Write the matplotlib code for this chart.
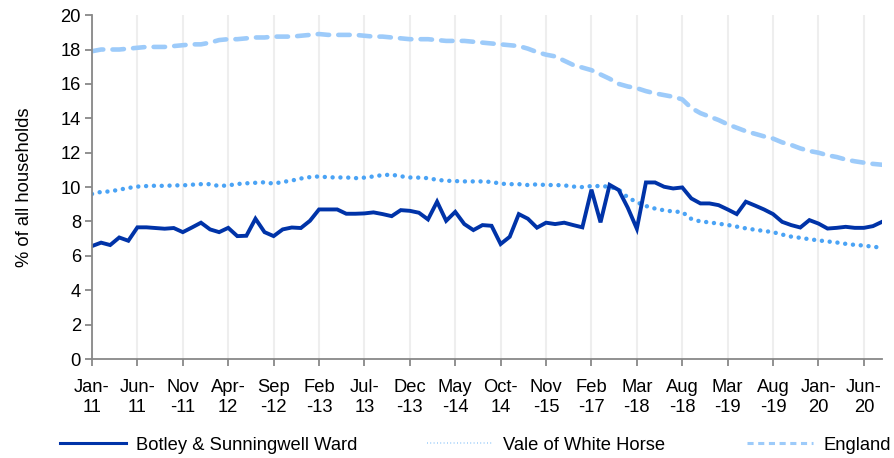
import numpy as np
import pandas as pd
from matplotlib import pyplot as plt
from matplotlib.lines import Line2D

plt.rcParams['font.family'] = ['Liberation Sans', 'DejaVu Sans']

# category labels (monthly to Oct-14, then quarterly, then monthly again)
months = (list(pd.date_range('2011-01-01', '2014-10-01', freq='MS').strftime('%b-%y'))
          + ['Nov-14', 'Feb-15', 'May-15', 'Aug-15', 'Nov-15',
             'Feb-16', 'May-16', 'Aug-16', 'Nov-16', 'Feb-17',
             'May-17', 'Aug-17', 'Nov-17', 'Feb-18', 'Mar-18',
             'Apr-18', 'May-18', 'Jun-18', 'Jul-18', 'Aug-18',
             'Sep-18', 'Nov-18', 'Dec-18', 'Jan-19']
          + list(pd.date_range('2019-03-01', '2020-08-01', freq='MS').strftime('%b-%y')))

botley = [6.57, 6.77, 6.63, 7.07, 6.88, 7.66, 7.66, 7.62, 7.58, 7.62,
          7.38, 7.65, 7.93, 7.54, 7.38, 7.63, 7.15, 7.17, 8.16, 7.38,
          7.15, 7.54, 7.65, 7.62, 8.04, 8.70, 8.70, 8.70, 8.45, 8.45,
          8.47, 8.53, 8.43, 8.31, 8.66, 8.62, 8.51, 8.12, 9.15, 8.04,
          8.56, 7.85, 7.50, 7.79, 7.75, 6.69, 7.11, 8.43, 8.16, 7.64,
          7.93, 7.85, 7.93, 7.79, 7.66, 9.85, 7.95, 10.13, 9.83, 8.80,
          7.58, 10.27, 10.27, 10.02, 9.92, 9.98, 9.34, 9.05, 9.05, 8.95,
          8.70, 8.43, 9.15, 8.93, 8.70, 8.43, 7.98, 7.79, 7.65, 8.08,
          7.88, 7.59, 7.63, 7.69, 7.63, 7.63, 7.73, 7.98]

vale = [9.60, 9.72, 9.75, 9.85, 9.95, 10.03, 10.06, 10.08, 10.07, 10.10,
        10.10, 10.14, 10.17, 10.17, 10.06, 10.10, 10.18, 10.22, 10.25, 10.28,
        10.20, 10.30, 10.38, 10.50, 10.58, 10.62, 10.57, 10.56, 10.56, 10.52,
        10.55, 10.62, 10.70, 10.72, 10.63, 10.56, 10.55, 10.52, 10.42, 10.37,
        10.35, 10.33, 10.33, 10.33, 10.30, 10.20, 10.17, 10.17, 10.12, 10.16,
        10.12, 10.12, 10.10, 10.03, 10.00, 10.06, 10.06, 10.02, 9.85, 9.40,
        9.12, 8.90, 8.75, 8.65, 8.58, 8.55, 8.15, 8.00, 7.95, 7.87,
        7.80, 7.70, 7.60, 7.52, 7.45, 7.38, 7.24, 7.12, 7.05, 6.97,
        6.90, 6.84, 6.78, 6.70, 6.64, 6.60, 6.53, 6.48]

england = [17.90, 18.00, 18.00, 18.00, 18.05, 18.10, 18.15, 18.15, 18.15, 18.20,
           18.25, 18.30, 18.30, 18.40, 18.55, 18.60, 18.60, 18.65, 18.70, 18.70,
           18.75, 18.75, 18.75, 18.80, 18.85, 18.90, 18.85, 18.85, 18.85, 18.85,
           18.80, 18.75, 18.75, 18.70, 18.65, 18.60, 18.60, 18.60, 18.55, 18.50,
           18.50, 18.50, 18.45, 18.40, 18.35, 18.30, 18.25, 18.20, 18.05, 17.85,
           17.70, 17.60, 17.35, 17.10, 16.95, 16.80, 16.55, 16.30, 16.00, 15.85,
           15.75, 15.58, 15.45, 15.35, 15.25, 15.10, 14.60, 14.30, 14.10, 13.90,
           13.65, 13.45, 13.25, 13.10, 12.95, 12.82, 12.60, 12.45, 12.25, 12.10,
           12.00, 11.85, 11.75, 11.60, 11.50, 11.42, 11.35, 11.30]

wide = ['Nov', 'Sep', 'Feb', 'Dec', 'May', 'Mar', 'Aug']


def wrap(lbl):
    m, y = lbl.split('-')
    if m in wide:
        return m + '\n-' + y
    return m + '-\n' + y


x = np.arange(len(months))
fs = 13.2

fig = plt.figure(figsize=(8.95, 4.58), dpi=100)
ax = fig.add_axes([0.1028, 0.216, 0.8827, 0.751])

c_bot = '#0033A8'
c_vale = '#4AA3F5'
c_eng = '#9DCBFA'

ax.plot(x, england, color=c_eng, lw=3.3, ls=(0, (2.5, 2.0)), dash_capstyle='round')
ax.plot(x, vale, color=c_vale, lw=3.2, ls=(0, (0.01, 1.75)), dash_capstyle='round')
ax.plot(x, botley, color=c_bot, lw=2.8, solid_joinstyle='miter')

ax.set_xlim(0, len(months) - 1)
ax.set_ylim(0, 20)
ax.set_yticks(np.arange(0, 21, 2))
ax.set_xticks(x[::5])
ax.set_xticklabels([wrap(months[i]) for i in x[::5]], linespacing=1.3)
ax.tick_params(axis='both', labelsize=fs, colors='#888888', labelcolor='black',
               length=5, width=1.3, direction='out')
ax.tick_params(axis='x', pad=9)
ax.tick_params(axis='y', pad=3)
ax.grid(axis='x', color='#EEEEEE', lw=1.5)
ax.set_axisbelow(True)
for s in ['top', 'right']:
    ax.spines[s].set_visible(False)
for s in ['left', 'bottom']:
    ax.spines[s].set_color('#888888')
    ax.spines[s].set_linewidth(1.3)
ax.set_ylabel('% of all households', fontsize=fs, labelpad=20)

# legend entries, one per slot like the original
entries = [
    (Line2D([], [], color=c_bot, lw=2.2), 'Botley & Sunningwell Ward', 60),
    (Line2D([], [], color=c_vale, lw=1.2, ls=(0, (0.5, 1.5)), alpha=0.6), 'Vale of White Horse', 427),
    (Line2D([], [], color=c_eng, lw=2.2, ls=(0, (2, 1.5))), 'England', 747),
]
for h, lab, px in entries:
    fig.legend([h], [lab], loc='center left', bbox_to_anchor=(px / 895, 1 - 445 / 458),
               frameon=False, fontsize=fs, handlelength=3.6, handletextpad=0.55,
               borderpad=0, borderaxespad=0)

fig.savefig('out.png', dpi=100)
